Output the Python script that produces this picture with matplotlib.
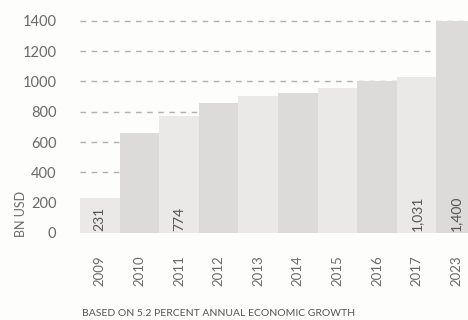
import matplotlib.pyplot as plt
import numpy as np

plt.rcParams['font.family'] = ['Lato', 'DejaVu Sans']

years = ["2009", "2010", "2011", "2012", "2013", "2014", "2015", "2016", "2017", "2023"]
values = [231, 660, 774, 860, 905, 925, 960, 1000, 1031, 1400]
labelled = {"2009": "231", "2011": "774", "2017": "1,031", "2023": "1,400"}
yticks = [0, 200, 400, 600, 800, 1000, 1200, 1400]

light = "#ebe9e7"
dark = "#dddbd9"
text_col = "#6a6a6a"

fig = plt.figure(figsize=(4.68, 3.2), dpi=100, facecolor="#fdfdfb")
ax = fig.add_axes([80 / 468, 1 - 233 / 320, 1 - 80 / 468, (233 - 14) / 320])
ax.set_facecolor("#fdfdfb")

x = np.arange(len(years))
colors = [light if i % 2 == 0 else dark for i in range(len(years))]
ax.bar(x, values, width=1.0, color=colors, zorder=2)

# dashed guides, hidden behind the bars
for v in yticks[1:]:
    ax.axhline(v, color="#b0b0b0", lw=1.0, ls=(0, (4, 4)), zorder=1)

for i, (yr, v) in enumerate(zip(years, values)):
    if yr in labelled:
        ax.text(i, 12, labelled[yr], rotation=90, ha="center", va="bottom",
                fontsize=10, color="#555555", zorder=3)

ax.set_xlim(-0.5, 9.3)
ax.set_ylim(0, 1445)
ax.set_yticks(yticks)
ax.set_yticklabels([str(t) for t in yticks], fontsize=10.5, color=text_col)
ax.set_xticks(x)
ax.set_xticklabels(years, rotation=90, fontsize=9.5, color=text_col)
ax.tick_params(axis="y", length=0, pad=17)
ax.tick_params(axis="x", length=0, pad=16)
for s in ax.spines.values():
    s.set_visible(False)

fig.text(21 / 468, 1 - 214 / 320, "BN USD", rotation=90, ha="center", va="center",
         fontsize=9, color=text_col)
fig.text(82 / 468, 1 - 313 / 320, "BASED ON 5.2 PERCENT ANNUAL ECONOMIC GROWTH",
         ha="left", va="center", fontsize=7.5, color="#555555")

fig.savefig("out.png", dpi=100, facecolor=fig.get_facecolor())
